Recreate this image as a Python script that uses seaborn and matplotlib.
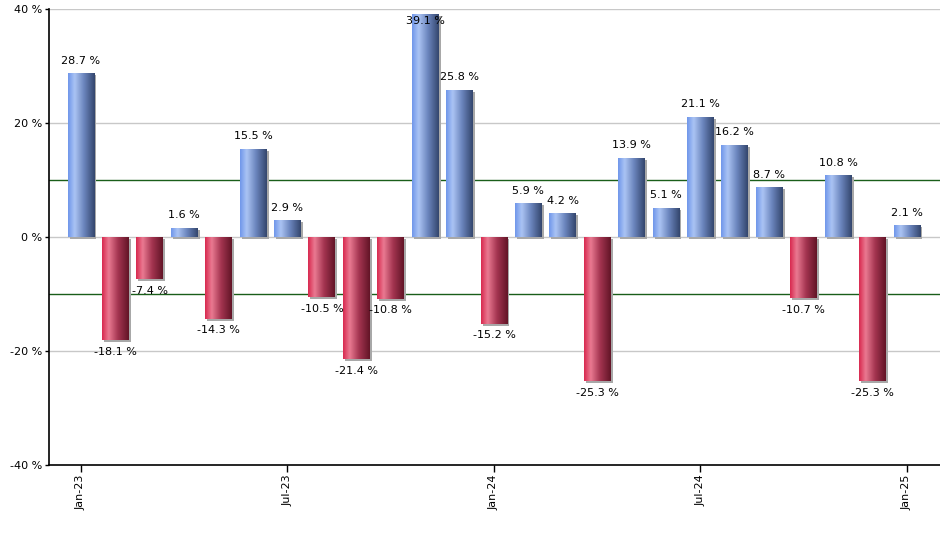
import numpy as np
import pandas as pd
import matplotlib
matplotlib.use("Agg")
import matplotlib.pyplot as plt
import seaborn as sns
from matplotlib.colors import LinearSegmentedColormap
from matplotlib.patches import Rectangle
from matplotlib.transforms import ScaledTranslation

months = ["Jan-23", "Feb-23", "Mar-23", "Apr-23", "May-23", "Jun-23", "Jul-23", "Aug-23",
          "Sep-23", "Oct-23", "Nov-23", "Dec-23", "Jan-24", "Feb-24", "Mar-24", "Apr-24",
          "May-24", "Jun-24", "Jul-24", "Aug-24", "Sep-24", "Oct-24", "Nov-24", "Dec-24", "Jan-25"]
values = [28.7, -18.1, -7.4, 1.6, -14.3, 15.5, 2.9, -10.5, -21.4, -10.8, 39.1, 25.8, -15.2,
          5.9, 4.2, -25.3, 13.9, 5.1, 21.1, 16.2, 8.7, -10.7, 10.8, -25.3, 2.1]
tick_labels = ["Jan-23", "Jul-23", "Jan-24", "Jul-24", "Jan-25"]
y_ticks = [-40, -20, 0, 20, 40]

df = pd.DataFrame({"month": months, "value": values})

sns.set_style("white")
plt.rcParams['font.family'] = ['DejaVu Sans']
plt.rcParams['text.color'] = 'black'
plt.rcParams['xtick.color'] = 'black'
plt.rcParams['ytick.color'] = 'black'

fig = plt.figure(figsize=(9.4, 5.5), dpi=100)
ax = fig.add_axes([49/940, 1-465/550, 1-49/940, (465-9)/550])

sns.barplot(data=df, x="month", y="value", order=months, width=0.78, ax=ax,
            color="#6b94e8", saturation=1, zorder=3)

blue_cmap = LinearSegmentedColormap.from_list(
    "b", [(0, "#6e95ea"), (0.25, "#abc4f4"), (0.6, "#6a84bc"), (1.0, "#33456c")])
red_cmap = LinearSegmentedColormap.from_list(
    "r", [(0, "#d8284e"), (0.25, "#ea7a92"), (0.6, "#a33450"), (1.0, "#621426")])
grad = np.linspace(0, 1, 256).reshape(1, -1)

shadow_tr = ax.transData + ScaledTranslation(2/100, -2/100, fig.dpi_scale_trans)
for patch, v in zip(ax.patches, values):
    x0 = patch.get_x(); w = patch.get_width()
    y0 = patch.get_y(); h = patch.get_height()
    ylo, yhi = min(y0, y0 + h), max(y0, y0 + h)
    sh = Rectangle((x0, ylo), w, yhi - ylo, transform=shadow_tr,
                   facecolor="#a8a8a8", edgecolor="none", zorder=2)
    sh.set_clip_path(ax.patch)
    ax.add_patch(sh)
    cmap = blue_cmap if v >= 0 else red_cmap
    im = ax.imshow(grad, cmap=cmap, aspect="auto", extent=(x0, x0 + w, ylo, yhi),
                   zorder=3.5, interpolation="bicubic")
    im.set_clip_path(patch)
    patch.set_facecolor("none")
    patch.set_edgecolor("none")
    if v >= 0:
        if v > 37:
            ax.annotate(f"{v} %", (x0 + w/2, 40), xytext=(0, -9), textcoords="offset points",
                        ha="center", va="center", fontsize=8, color="black", zorder=5)
        else:
            ax.annotate(f"{v} %", (x0 + w/2, v), xytext=(0, 9), textcoords="offset points",
                        ha="center", va="center", fontsize=8, color="black", zorder=5)
    else:
        ax.annotate(f"{v} %", (x0 + w/2, v), xytext=(0, -8.5), textcoords="offset points",
                    ha="center", va="center", fontsize=8, color="black", zorder=5)

ax.set_xlim(-0.93, 24.96)
ax.set_ylim(-40, 40)

for yv in [0, 20, -20, 40]:
    ax.axhline(yv, color="#c8c8c8", lw=1, zorder=1)
for yv in [10, -10]:
    ax.axhline(yv, color="#1a5e1a", lw=1, zorder=1)

ax.set_yticks(y_ticks)
ax.set_yticklabels([f"{t} %" for t in y_ticks], fontsize=8, color="black")
tick_pos = [months.index(t) for t in tick_labels]
ax.set_xticks(tick_pos)
ax.set_xticklabels(tick_labels, rotation=90, fontsize=8, color="black")
ax.tick_params(axis="x", length=5, width=1, color="black", direction="out", pad=2, bottom=True)
ax.tick_params(axis="y", length=3, width=1, color="black", direction="out", pad=2, left=True)
ax.set_xlabel("")
ax.set_ylabel("")
for s in ["top", "right"]:
    ax.spines[s].set_visible(False)
for s in ["left", "bottom"]:
    ax.spines[s].set_color("black")
    ax.spines[s].set_linewidth(1.2)
    ax.spines[s].set_zorder(6)

fig.savefig("out.png", dpi=100)
